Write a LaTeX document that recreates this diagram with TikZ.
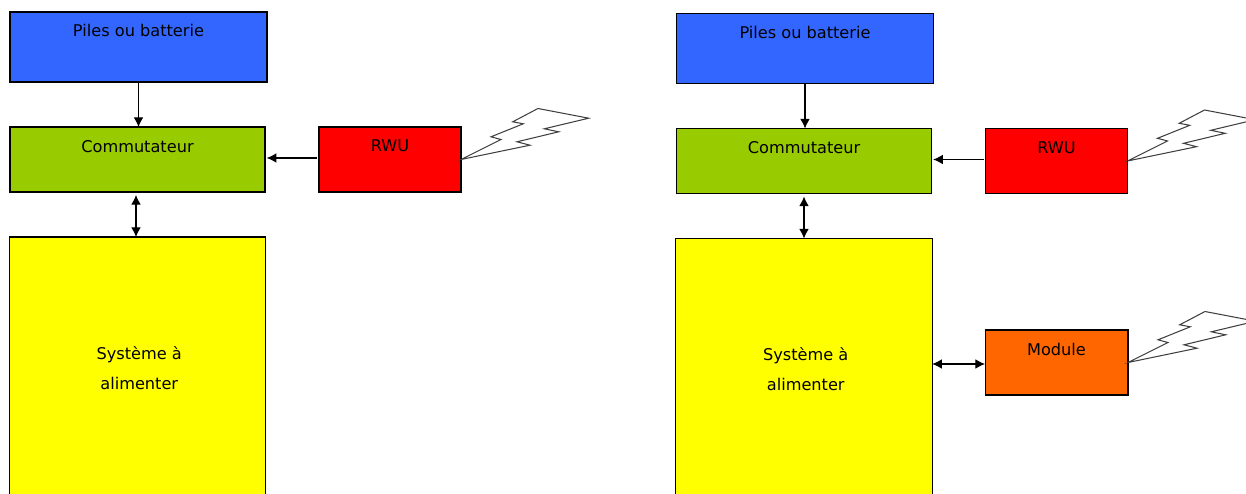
\documentclass[tikz,border=0pt]{standalone}
\usepackage{fontspec}
\usetikzlibrary{arrows.meta}
\setmainfont{DejaVu Sans}
\definecolor{batblue}{HTML}{3366FF}
\definecolor{comgreen}{HTML}{99CC00}
\definecolor{rwured}{HTML}{FF0000}
\definecolor{sysyellow}{HTML}{FFFF00}
\definecolor{modorange}{HTML}{FF6600}
\tikzset{
	box/.style={draw,rectangle,line width=0.6pt,inner sep=0pt,outer sep=0pt,font=\fontsize{9.2}{17}\selectfont},
	uptext/.style={text depth=#1},
	link/.style={line width=0.6pt},
	bolt/.style={line width=0.6pt,draw=black!75,line join=miter}
}
\begin{document}
\begin{tikzpicture}[x=0.02cm,y=-0.02cm,every path/.style={>={Latex[length=5.5pt,width=5.5pt]}}]
	\useasboundingbox (0,0) rectangle (1246,493);
	\clip (0,0) rectangle (1246,493);

	% draw both panels
	\foreach \p/\dx/\dy/\ax in {1/0/0/-0.03cm,2/666.5/1.5/0cm}
	{
		\node (bat\p) at (138.5+\dx,47+\dy) [box,fill=batblue,minimum width=5.14cm,minimum height=1.4cm,uptext=0.66cm] {Piles ou batterie};
		\node (com\p) at (137.5+\dx,159.5+\dy) [box,fill=comgreen,minimum width=5.1cm,minimum height=1.3cm,uptext=0.54cm] {Commutateur};
		\node (rwu\p) at (390+\dx,159.5+\dy) [box,fill=rwured,minimum width=2.84cm,minimum height=1.3cm,uptext=0.54cm] {RWU};
		\node (sys\p) at (137.5+\dx,368+\dy) [box,fill=sysyellow,minimum width=5.13cm,minimum height=5.24cm,align=center] {\hspace*{0.07cm}Système à\\\hspace*{0.07cm}alimenter};

		% draw lines between the blocks
		\draw[link,->] (bat\p.south) to (bat\p.south |- com\p.north);
		\draw[link,<->,shorten <=1.7pt] ([xshift=\ax]com\p.south) to ([xshift=\ax]com\p.south |- sys\p.north);
		\draw[link,->,shorten <=1pt,shorten >=1pt] ([yshift=0.03cm]rwu\p.west) to ([yshift=0.03cm]com\p.east);
	}

	% draw module of right panel
	\node (mod2) at (1056.5,362.5) [box,fill=modorange,minimum width=2.86cm,minimum height=1.3cm,uptext=0.54cm] {Module};
	\draw[link,<->] ([yshift=-0.03cm]mod2.west -| sys2.east) to ([yshift=-0.03cm]mod2.west);

	% draw lightning bolts
	\foreach \n in {rwu1,rwu2,mod2}
	{
		\draw[bolt,shift={(\n.east)}] (0,0) -- (40,-20) -- (30,-22.7) -- (62.3,-35.7) -- (51.7,-37.7) -- (77,-51) -- (127.7,-41.3) -- (83.3,-30.7) -- (97.7,-27.7) -- (56,-17.7) -- (69,-14.3) -- cycle;
	}
\end{tikzpicture}
\end{document}
